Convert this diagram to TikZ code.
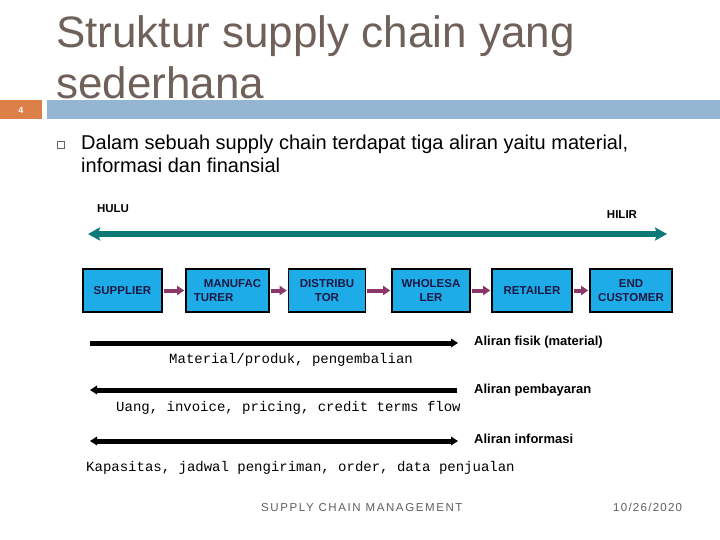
\documentclass[tikz,border=0pt]{standalone}
\usepackage{fontspec}
\setmainfont{Liberation Sans}
\newfontfamily\monof{Liberation Mono}
\usetikzlibrary{arrows.meta}
\definecolor{titlec}{RGB}{112,96,90}
\definecolor{barblue}{RGB}{148,182,210}
\definecolor{barorange}{RGB}{221,128,71}
\definecolor{boxblue}{RGB}{30,172,232}
\definecolor{boxtext}{RGB}{25,25,70}
\definecolor{purp}{RGB}{140,55,105}
\definecolor{tealc}{RGB}{14,122,120}
\definecolor{footc}{RGB}{95,95,95}
\tikzset{
  btip/.tip={Triangle[width=8.5pt,length=7pt]},
  sbox/.style={draw=black, line width=1.6pt, fill=boxblue, text=boxtext,
    font=\bfseries\fontsize{11.5}{13.5}\selectfont, align=center,
    minimum height=43pt, inner sep=0pt},
  parrow/.style={draw=purp, line width=4pt, -{Triangle[width=9pt,length=7pt]}, shorten <=1pt, shorten >=1pt},
  tarrow/.style={draw=tealc, line width=5pt, {Stealth[length=12pt,width=13pt,inset=2pt]}-{Stealth[length=12pt,width=13pt,inset=2pt]}},
  barrow/.style={draw=black, line width=5pt},
  flowlbl/.style={font=\bfseries\fontsize{13}{15}\selectfont, anchor=west, inner sep=0pt},
  monolbl/.style={font=\monof\fontsize{14}{16}\selectfont, anchor=west, inner sep=0pt},
  endlbl/.style={font=\bfseries\fontsize{11.5}{13}\selectfont, inner sep=0pt}
}
\begin{document}
\begin{tikzpicture}[x=1pt,y=-1pt]
\useasboundingbox (0,0) rectangle (720,540);
\fill[white] (0,0) rectangle (720,540);

% title
\node[anchor=base west, inner sep=0pt, text=titlec, font=\fontsize{44}{44}\selectfont] (t1) at (56,48) {Struktur supply chain yang};
\node[anchor=base west, inner sep=0pt, text=titlec, font=\fontsize{44}{44}\selectfont] (t2) at (56,99) {sederhana};

% header bars
\fill[barorange] (0,100) rectangle (42,119);
\fill[barblue] (47,100) rectangle (720,119);
\node[text=white, font=\bfseries\fontsize{9}{9}\selectfont] (pg) at (21,110) {4};

% bullet
\draw[titlec, line width=0.8pt] (57,141) rectangle (64.5,148.5);
\node[anchor=base west, inner sep=0pt, font=\fontsize{20}{22}\selectfont] (b1) at (81,150) {Dalam sebuah supply chain terdapat tiga aliran yaitu material,};
\node[anchor=base west, inner sep=0pt, font=\fontsize{20}{22}\selectfont] (b2) at (81,173) {informasi dan finansial};

% HULU HILIR
\node[endlbl] (hulu) at (113,209) {HULU};
\node[endlbl] (hilir) at (622,215) {HILIR};
\coordinate (tl) at (88,234);
\coordinate (tr) at (667,234);
\draw[tarrow] (tl) -- (tr);

% boxes
\node[sbox, minimum width=79pt] (s1) at (122.5,290.5) {SUPPLIER};
\node[sbox, minimum width=83pt, align=left] (s2) at (227.5,290.5) {\hspace*{10pt}MANUFAC\\TURER\hspace*{20pt}};
\node[sbox, minimum width=77pt] (s3) at (327,290.5) {DISTRIBU\\TOR};
\node[sbox, minimum width=78pt] (s4) at (431,290.5) {WHOLESA\\LER};
\node[sbox, minimum width=80pt] (s5) at (532,290.5) {RETAILER};
\node[sbox, minimum width=82pt] (s6) at (631,290.5) {END\\CUSTOMER};
\draw[parrow] (s1.east) -- (s2.west);
\draw[parrow] (s2.east) -- (s3.west);
\draw[parrow] (s3.east) -- (s4.west);
\draw[parrow] (s4.east) -- (s5.west);
\draw[parrow] (s5.east) -- (s6.west);

% flows
\coordinate (f1l) at (90,343);
\coordinate (f1r) at (458,343);
\coordinate (f2l) at (90,390);
\coordinate (f2r) at (457,390);
\coordinate (f3l) at (90,441);
\coordinate (f3r) at (458,441);
\draw[barrow, -{btip}] (f1l) -- (f1r);
\draw[barrow, {btip}-] (f2l) -- (f2r);
\draw[barrow, {btip}-{btip}] (f3l) -- (f3r);

\node[flowlbl] (l1) at (474,342) {Aliran fisik (material)};
\node[flowlbl] (l2) at (474,390) {Aliran pembayaran};
\node[flowlbl] (l3) at (474,439) {Aliran informasi};

\node[monolbl] (m1) at (169,360) {Material/produk, pengembalian};
\node[monolbl] (m2) at (116,408) {Uang, invoice, pricing, credit terms flow};
\node[monolbl] (m3) at (86,468) {Kapasitas, jadwal pengiriman, order, data penjualan};

% footer
\node[anchor=base west, inner sep=0pt, text=footc, font=\fontsize{11.5}{11.5}\selectfont\addfontfeature{LetterSpace=14}] (ft) at (261,511) {SUPPLY CHAIN MANAGEMENT};
\node[anchor=base west, inner sep=0pt, text=footc, font=\fontsize{11.5}{11.5}\selectfont\addfontfeature{LetterSpace=11}] (dt) at (613,511) {10/26/2020};
\end{tikzpicture}
\end{document}
